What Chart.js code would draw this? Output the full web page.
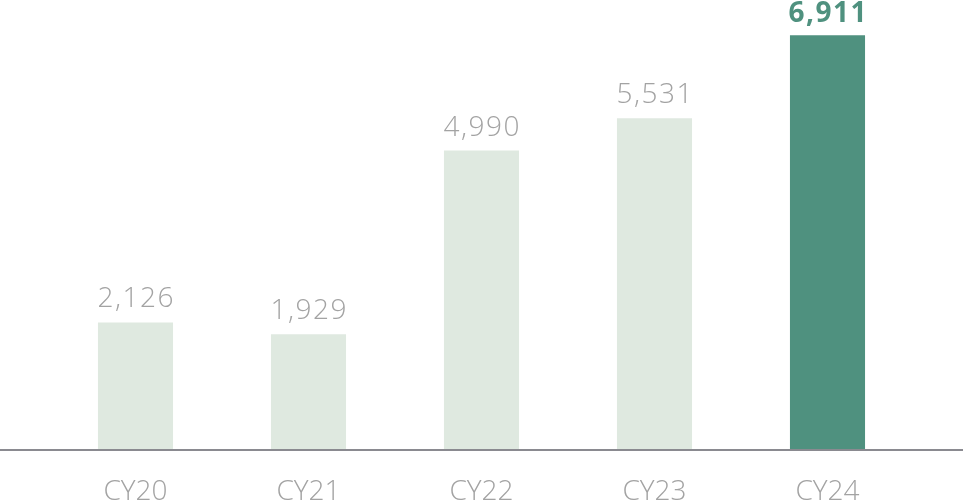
<!DOCTYPE html>
<html>
<head>
<meta charset="utf-8">
<script src="https://cdn.jsdelivr.net/npm/chart.js@4/dist/chart.umd.min.js"></script>
<style>
html,body{margin:0;padding:0;background:#fff;}
#wrap{width:963px;height:502px;position:relative;}
</style>
</head>
<body>
<div id="wrap"><canvas id="c"></canvas></div>
<script>
const categories = ['CY20', 'CY21', 'CY22', 'CY23', 'CY24'];
const values = [2126, 1929, 4990, 5531, 6911];
const valueLabels = ['2,126', '1,929', '4,990', '5,531', '6,911'];
const highlightIndex = [4];

const light = '#dfe9e0';
const dark = '#4f917f';
const grey = '#a3a3a3';
const fontFamily = '"Open Sans", sans-serif';

const labelPlugin = {
  id: 'labels',
  afterDatasetsDraw(chart) {
    const ctx = chart.ctx;
    const meta = chart.getDatasetMeta(0);
    const y0 = chart.scales.y.getPixelForValue(0);
    ctx.save();
    // baseline
    ctx.strokeStyle = '#8a8a90';
    ctx.lineWidth = 2;
    ctx.beginPath();
    ctx.moveTo(0, y0);
    ctx.lineTo(chart.width, y0);
    ctx.stroke();
    ctx.textAlign = 'center';
    ctx.textBaseline = 'alphabetic';
    meta.data.forEach((bar, i) => {
      const hi = highlightIndex.includes(i);
      ctx.fillStyle = hi ? dark : grey;
      ctx.font = (hi ? '700 ' : '300 ') + '28px ' + fontFamily;
      ctx.letterSpacing = '1.5px';
      ctx.fillText(valueLabels[i], bar.x + 0.75, bar.y - (hi ? 13 : 15));
    });
    ctx.restore();
  }
};

new Chart(document.getElementById('c'), {
  type: 'bar',
  data: {
    labels: categories,
    datasets: [{
      data: values,
      backgroundColor: values.map((v, i) => highlightIndex.includes(i) ? dark : light),
      borderWidth: 0,
      categoryPercentage: 1,
      barPercentage: 0.434
    }]
  },
  options: {
    responsive: true,
    maintainAspectRatio: false,
    animation: false,
    layout: { padding: { left: 49, right: 49, top: 0, bottom: 0 } },
    plugins: { legend: { display: false }, tooltip: { enabled: false } },
    scales: {
      x: {
        grid: { display: false, drawTicks: false },
        border: { display: false },
        ticks: { color: grey, font: { family: fontFamily, size: 28, weight: 300 }, padding: 25 },
        afterFit(scale) { scale.height = 52; }
      },
      y: {
        display: false,
        min: 0,
        max: 7500
      }
    }
  },
  plugins: [labelPlugin]
});
</script>
</body>
</html>
